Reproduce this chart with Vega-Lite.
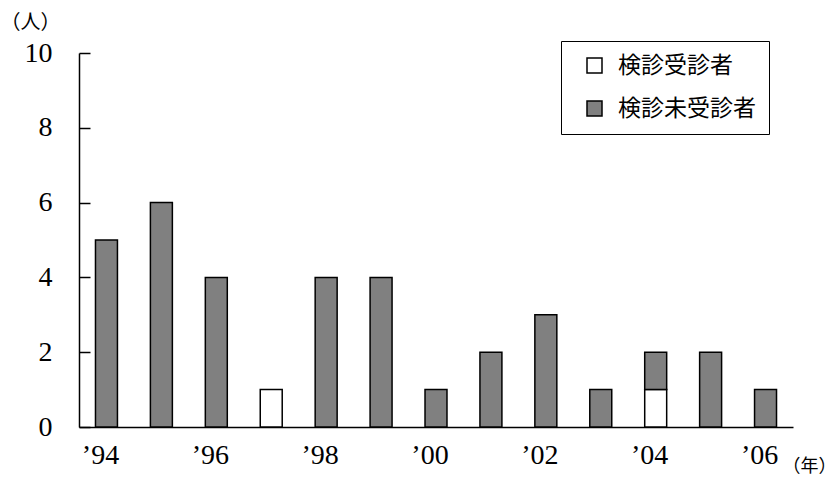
{
  "$schema": "https://vega.github.io/schema/vega-lite/v6.json",
  "width": 714,
  "height": 374,
  "autosize": {"type": "none"},
  "padding": {"left": 79, "top": 53, "right": 44, "bottom": 54},
  "background": "white",
  "config": {
    "view": {"stroke": null},
    "axis": {"grid": false, "domainColor": "black", "domainWidth": 1.5, "tickColor": "black", "tickWidth": 1.5, "labelColor": "black", "titleColor": "black"}
  },
  "data": {
    "values": [
      {"year": 1994, "type": "検診未受診者", "count": 5, "rank": 2},
      {"year": 1995, "type": "検診未受診者", "count": 6, "rank": 2},
      {"year": 1996, "type": "検診未受診者", "count": 4, "rank": 2},
      {"year": 1997, "type": "検診受診者", "count": 1, "rank": 1},
      {"year": 1998, "type": "検診未受診者", "count": 4, "rank": 2},
      {"year": 1999, "type": "検診未受診者", "count": 4, "rank": 2},
      {"year": 2000, "type": "検診未受診者", "count": 1, "rank": 2},
      {"year": 2001, "type": "検診未受診者", "count": 2, "rank": 2},
      {"year": 2002, "type": "検診未受診者", "count": 3, "rank": 2},
      {"year": 2003, "type": "検診未受診者", "count": 1, "rank": 2},
      {"year": 2004, "type": "検診受診者", "count": 1, "rank": 1},
      {"year": 2004, "type": "検診未受診者", "count": 1, "rank": 2},
      {"year": 2005, "type": "検診未受診者", "count": 2, "rank": 2},
      {"year": 2006, "type": "検診未受診者", "count": 1, "rank": 2}
    ]
  },
  "mark": {"type": "bar", "stroke": "black", "strokeWidth": 1.5},
  "encoding": {
    "x": {
      "field": "year",
      "type": "ordinal",
      "scale": {"domain": [1994, 1995, 1996, 1997, 1998, 1999, 2000, 2001, 2002, 2003, 2004, 2005, 2006], "paddingInner": 0.6, "paddingOuter": 0.3},
      "axis": {
        "title": "（年）",
        "titleFont": "Noto Sans CJK JP",
        "titleFontSize": 18,
        "titleFontWeight": "normal",
        "titleAngle": 0,
        "titleAlign": "center",
        "titleBaseline": "middle",
        "titleX": 730,
        "titleY": 39,
        "labelAngle": 0,
        "labelExpr": "datum.value % 2 == 0 ? '’' + slice(toString(datum.value), 2) : ''",
        "labelFont": "Liberation Serif",
        "labelFontSize": 28,
        "labelPadding": 14,
        "labelAlign": "center",
        "labelOffset": -6,
        "ticks": false
      }
    },
    "y": {
      "field": "count",
      "type": "quantitative",
      "stack": "zero",
      "scale": {"domain": [0, 10], "nice": false},
      "axis": {
        "title": "（人）",
        "titleFont": "Noto Sans CJK JP",
        "titleFontSize": 20,
        "titleFontWeight": "normal",
        "titleAngle": 0,
        "titleAlign": "center",
        "titleBaseline": "middle",
        "titleX": -49,
        "titleY": -31,
        "values": [0, 2, 4, 6, 8, 10],
        "tickSize": -11,
        "labelFont": "Liberation Serif",
        "labelFontSize": 28,
        "labelPadding": 38
      }
    },
    "fill": {
      "field": "type",
      "type": "nominal",
      "scale": {"domain": ["検診受診者", "検診未受診者"], "range": ["white", "#808080"]},
      "legend": {
        "title": null,
        "orient": "none",
        "legendX": 482,
        "legendY": -12,
        "strokeColor": "black",
        "fillColor": "white",
        "padding": 13,
        "symbolOffset": 9,
        "symbolType": "square",
        "symbolSize": 225,
        "symbolStrokeColor": "black",
        "symbolStrokeWidth": 1.5,
        "labelFont": "Noto Sans CJK JP",
        "labelFontSize": 23,
        "labelColor": "black",
        "labelOffset": 12,
        "rowPadding": 19,
        "labelLimit": 300
      }
    },
    "order": {"field": "rank", "type": "quantitative"}
  }
}
